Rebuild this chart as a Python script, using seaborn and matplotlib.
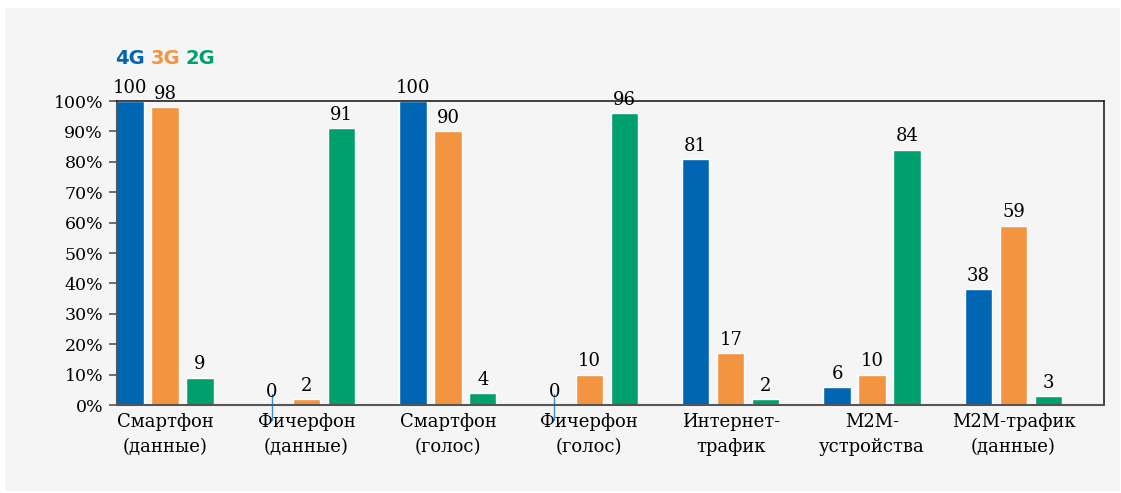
import pandas as pd
import matplotlib.pyplot as plt
import seaborn as sns
from matplotlib.patches import Rectangle

# Data (% of devices / traffic per generation)
categories = ['Смартфон\n(данные)', 'Фичерфон\n(данные)', 'Смартфон\n(голос)',
              'Фичерфон\n(голос)', 'Интернет-\nтрафик', 'M2M-\nустройства',
              'M2M-трафик\n(данные)']
gen_4g = [100, 0, 100, 0, 81, 6, 38]
gen_3g = [98, 2, 90, 10, 17, 10, 59]
gen_2g = [9, 91, 4, 96, 2, 84, 3]
generations = ['4G', '3G', '2G']
colors = ['#0066b3', '#f39441', '#00a06e']

df = pd.DataFrame({'cat': categories * 3,
                   'gen': ['4G'] * 7 + ['3G'] * 7 + ['2G'] * 7,
                   'value': gen_4g + gen_3g + gen_2g})

sns.set_style('white')
plt.rcParams['font.family'] = ['DejaVu Serif']
plt.rcParams['text.color'] = 'black'
plt.rcParams['xtick.labelcolor'] = 'black'
plt.rcParams['ytick.labelcolor'] = 'black'
W, H = 1121, 493
fig = plt.figure(figsize=(W / 100, H / 100), dpi=100, facecolor='white')
fig.patches.append(Rectangle((5 / W, 2 / H), 1115 / W, 483 / H, transform=fig.transFigure,
                             facecolor='#f5f5f5', edgecolor='none', zorder=-10))
ax = fig.add_axes([117 / W, 1 - 405 / H, (1104 - 117) / W, (405 - 101) / H])
ax.set_facecolor('#f5f5f5')

sns.barplot(data=df, x='cat', y='value', hue='gen', hue_order=generations,
            palette=colors, width=0.742, gap=0.22, saturation=1, legend=False, ax=ax)

ax.set_xlim(-0.34, 6.64)
ax.set_ylim(0, 100)
ax.set_yticks(range(0, 101, 10))
ax.set_yticklabels([f'{v}%' for v in range(0, 101, 10)], fontsize=12.5)
ax.set_xticks(range(len(categories)))
ax.set_xticklabels(categories, fontsize=13, linespacing=1.45)
ax.tick_params(axis='y', length=6, width=1.2, color='#555555', pad=4, left=True)
ax.tick_params(axis='x', length=0, pad=6)
ax.set_xlabel('')
ax.set_ylabel('')
for side in ['left', 'bottom']:
    ax.spines[side].set_color('#555555')
    ax.spines[side].set_linewidth(1.5)
for side in ['top', 'right']:
    ax.spines[side].set_color('#222222')
    ax.spines[side].set_linewidth(1.2)

# value labels above each bar; zero bars get a thin stub line
for container, col in zip(ax.containers, colors):
    for patch in container:
        h = patch.get_height()
        xc = patch.get_x() + patch.get_width() / 2
        ax.text(xc, h + 1.4, f'{int(round(h))}', ha='center', va='bottom',
                fontsize=13, clip_on=False)
        if h == 0:
            ax.plot([xc, xc], [3.5, -5], color='#3a8fd0', lw=1, clip_on=False)

# coloured legend text above first group
for patch, gen, col in zip([c[0] for c in ax.containers], generations, colors):
    xc = patch.get_x() + patch.get_width() / 2
    ax.text(xc, 111, gen, color=col, ha='center', va='bottom', fontsize=14,
            fontweight='bold', family='DejaVu Sans', clip_on=False)

fig.savefig('out.png', dpi=100, facecolor='white')
